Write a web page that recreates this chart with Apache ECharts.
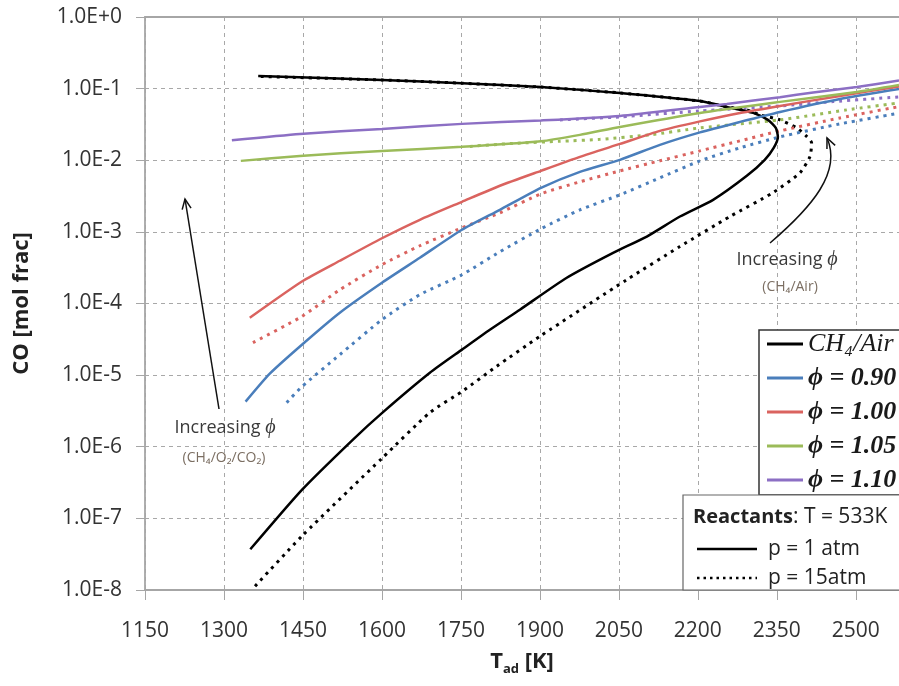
<!DOCTYPE html>
<html>
<head>
<meta charset="utf-8">
<script src="https://cdn.jsdelivr.net/npm/echarts@6/dist/echarts.min.js"></script>
<style>
    html, body { margin: 0; padding: 0; background: #fff; }
    #chart { width: 899px; height: 686px; }
</style>
</head>
<body>
<div id="chart"></div>
<script>
// x ticks
const xMin = 1150, xMax = 2582, xStep = 150;

// CH4/Air, p = 1 atm (lower branch up to the turn, then back along the top)
const ch4T1 = [1350, 1448, 1545, 1601, 1691, 1752, 1805, 1862, 1951, 2039, 2103, 2166, 2229, 2293, 2327, 2344, 2352, 2348, 2333, 2305, 2255, 2204, 2052, 1902, 1752, 1600, 1365];
const ch4CO1 = [3.7e-8, 2.5e-7, 1.26e-6, 3.0e-6, 1.08e-5, 2.27e-5, 4.3e-5, 8.2e-5, 2.29e-4, 5.1e-4, 8.6e-4, 1.64e-3, 2.8e-3, 6.06e-3, 1.014e-2, 1.49e-2, 2.12e-2, 2.83e-2, 3.66e-2, 4.58e-2, 5.56e-2, 6.7e-2, 8.7e-2, 0.105, 0.119, 0.132, 0.150];
// CH4/Air, p = 15 atm
const ch4T15 = [1359, 1448, 1601, 1691, 1752, 1818, 1900, 2065, 2166, 2261, 2342, 2394, 2413, 2416, 2407, 2388, 2356, 2318, 2293, 2255, 2204, 2052, 1902, 1752, 1600, 1370];
const ch4CO15 = [1.13e-8, 5.65e-8, 7.0e-7, 3.0e-6, 5.9e-6, 1.33e-5, 3.48e-5, 2.15e-4, 6.25e-4, 1.64e-3, 3.5e-3, 6.7e-3, 1.13e-2, 1.75e-2, 2.14e-2, 2.83e-2, 3.66e-2, 4.3e-2, 5.05e-2, 5.56e-2, 6.7e-2, 8.7e-2, 0.105, 0.119, 0.132, 0.148];

// phi = 0.90
const phi090T1 = [1341, 1387, 1448, 1520, 1600, 1672, 1752, 1824, 1902, 1976, 2052, 2128, 2204, 2280, 2356, 2470, 2582];
const phi090CO1 = [4.27e-6, 1.05e-5, 2.66e-5, 7.44e-5, 1.95e-4, 4.35e-4, 1.07e-3, 2.03e-3, 4.12e-3, 6.89e-3, 1.014e-2, 1.64e-2, 2.45e-2, 3.43e-2, 4.73e-2, 7.18e-2, 9.9e-2];
const phi090T15 = [1419, 1448, 1520, 1600, 1672, 1752, 1824, 1902, 1976, 2052, 2128, 2204, 2280, 2356, 2470, 2582];
const phi090CO15 = [4.13e-6, 6.9e-6, 1.93e-5, 5.94e-5, 1.33e-4, 2.52e-4, 5.28e-4, 1.105e-3, 2.03e-3, 3.29e-3, 5.69e-3, 9.82e-3, 1.49e-2, 2.12e-2, 3.22e-2, 4.54e-2];

// phi = 1.00
const phi100T1 = [1349, 1448, 1520, 1600, 1672, 1752, 1824, 1902, 1976, 2052, 2128, 2204, 2280, 2356, 2470, 2582];
const phi100CO1 = [6.33e-5, 2.03e-4, 3.95e-4, 8.15e-4, 1.475e-3, 2.63e-3, 4.40e-3, 7.12e-3, 1.115e-2, 1.69e-2, 2.57e-2, 3.49e-2, 4.58e-2, 5.74e-2, 7.91e-2, 0.1073];
const phi100T15 = [1355, 1448, 1520, 1600, 1672, 1752, 1824, 1902, 1976, 2052, 2128, 2204, 2280, 2356, 2470, 2582];
const phi100CO15 = [2.84e-5, 6.6e-5, 1.556e-4, 3.48e-4, 6.4e-4, 1.14e-3, 1.845e-3, 3.40e-3, 5.0e-3, 7.12e-3, 9.82e-3, 1.352e-2, 1.865e-2, 2.57e-2, 3.90e-2, 5.61e-2];

// phi = 1.05
const phi105T1 = [1332, 1444, 1600, 1752, 1902, 1976, 2052, 2204, 2356, 2502, 2582];
const phi105CO1 = [9.8e-3, 1.15e-2, 1.35e-2, 1.54e-2, 1.84e-2, 2.26e-2, 2.92e-2, 4.58e-2, 6.53e-2, 9.0e-2, 0.1127];
const phi105T15 = [1767, 1849, 1938, 2014, 2109, 2204, 2356, 2483, 2582];
const phi105CO15 = [1.56e-2, 1.72e-2, 1.84e-2, 1.96e-2, 2.26e-2, 2.83e-2, 3.66e-2, 5.05e-2, 6.32e-2];

// phi = 1.10
const phi110T1 = [1315, 1444, 1600, 1752, 1902, 2052, 2204, 2255, 2356, 2419, 2502, 2582];
const phi110CO1 = [1.9e-2, 2.33e-2, 2.74e-2, 3.22e-2, 3.6e-2, 4.16e-2, 5.56e-2, 6.12e-2, 7.59e-2, 8.85e-2, 0.1056, 0.130];
const phi110T15 = [1938, 2052, 2204, 2356, 2457, 2582];
const phi110CO15 = [3.66e-2, 4.03e-2, 4.89e-2, 5.74e-2, 6.59e-2, 7.66e-2];

const legendNames = ['CH4/Air', 'ϕ = 0.90', 'ϕ = 1.00', 'ϕ = 1.05', 'ϕ = 1.10'];

const chart = echarts.init(document.getElementById('chart'));

function pairs(t, co) {
    return t.map(function (v, i) { return [v, co[i]]; });
}

function line(name, t, co, color, dotted) {
    return {
        name: name,
        type: 'line',
        data: pairs(t, co),
        symbol: 'none',
        smooth: 0.2,
        silent: true,
        animation: false,
        z: dotted ? 2 : 3,
        itemStyle: { color: color },
        lineStyle: dotted
            ? { color: color, width: 3, type: [3, 5] }
            : { color: color, width: 2.5 }
    };
}

// 箭头
function arrowHead(x, y, dx, dy) {
    const len = Math.hypot(dx, dy);
    const ux = dx / len, uy = dy / len;
    const L = 11, c = Math.cos(0.42), s = Math.sin(0.42);
    return {
        type: 'polyline',
        shape: {
            points: [
                [x - L * (ux * c - uy * s), y - L * (uy * c + ux * s)],
                [x, y],
                [x - L * (ux * c + uy * s), y - L * (uy * c - ux * s)]
            ]
        },
        style: { stroke: '#111', lineWidth: 1.5, fill: null },
        z: 100
    };
}

const sansFont = 'Open Sans';
const axisGrey = '#a6a6a6';
const blue = '#4A7EBB', red = '#DA635F', green = '#9BBB59', purple = '#8C6FC4';

const option = {
    backgroundColor: '#fff',
    animation: false,
    grid: { left: 145, right: 0, top: 17, bottom: 96 },
    xAxis: [{
        type: 'value',
        min: xMin,
        max: xMax,
        interval: xStep,
        name: '{t|T}{s|ad}{t| [K]}',
        nameLocation: 'middle',
        nameGap: 58,
        nameTextStyle: {
            rich: {
                t: { fontFamily: sansFont, fontWeight: 'bold', fontSize: 22, lineHeight: 28, color: '#222' },
                s: { fontFamily: sansFont, fontWeight: 'bold', fontSize: 13, lineHeight: 13, verticalAlign: 'bottom', color: '#222' }
            }
        },
        axisLine: { lineStyle: { color: axisGrey, width: 1.8 } },
        axisTick: { length: 10, lineStyle: { color: axisGrey } },
        axisLabel: {
            margin: 31, fontFamily: sansFont, fontSize: 21, color: '#333', showMaxLabel: false,
            formatter: function (v) { return String(v); }
        },
        splitLine: { lineStyle: { color: '#a8a8a8', type: [4, 4] } }
    }, {
        type: 'value',
        position: 'top',
        min: xMin,
        max: xMax,
        interval: xStep,
        axisLine: { show: true, lineStyle: { color: axisGrey, width: 1.8 } },
        axisTick: { show: false },
        axisLabel: { show: false },
        splitLine: { show: false }
    }],
    yAxis: {
        type: 'log',
        logBase: 10,
        min: 1e-8,
        max: 1,
        name: 'CO [mol frac]',
        nameLocation: 'middle',
        nameGap: 112,
        nameTextStyle: { fontFamily: sansFont, fontWeight: 'bold', fontSize: 22, color: '#222' },
        axisLine: { show: true, lineStyle: { color: axisGrey, width: 1.8 } },
        axisTick: { show: true, length: 9, lineStyle: { color: axisGrey } },
        axisLabel: {
            margin: 23,
            fontFamily: sansFont,
            fontSize: 21,
            color: '#333',
            formatter: function (v) {
                const e = Math.round(Math.log10(v));
                return '1.0E' + (e >= 0 ? '+' : '') + e;
            }
        },
        splitLine: { lineStyle: { color: '#a8a8a8', type: [4, 4] } }
    },
    legend: {
        data: legendNames,
        orient: 'vertical',
        left: 759,
        top: 330,
        padding: [1, 80, 2, 8],
        icon: 'rect',
        itemWidth: 36,
        itemHeight: 3,
        itemGap: 8,
        backgroundColor: '#fff',
        borderColor: '#333',
        borderWidth: 1.5,
        selectedMode: false,
        formatter: function (name) {
            if (name === 'CH4/Air') return '{it|CH₄/Air}';
            return '{bi|' + name + '}';
        },
        textStyle: {
            rich: {
                it: { fontFamily: 'Liberation Serif', fontStyle: 'italic', fontSize: 26, lineHeight: 28, color: '#1a1a1a' },
                bi: { fontFamily: 'Liberation Serif', fontStyle: 'italic', fontWeight: 'bold', fontSize: 26, lineHeight: 28, color: '#1a1a1a' }
            }
        }
    },
    graphic: [
        // Reactants box
        { type: 'rect', shape: { x: 683, y: 495, width: 240, height: 95 }, style: { fill: '#fff', stroke: '#666', lineWidth: 1.2 }, z: 100 },
        {
            type: 'text', x: 693, y: 517, z: 101,
            style: {
                text: '{b|Reactants}{n|: T = 533K}', verticalAlign: 'middle',
                rich: {
                    b: { fontFamily: sansFont, fontWeight: 'bold', fontSize: 20, fill: '#222' },
                    n: { fontFamily: sansFont, fontSize: 21, fill: '#222' }
                }
            }
        },
        { type: 'line', shape: { x1: 697, y1: 549, x2: 757, y2: 549 }, style: { stroke: '#000', lineWidth: 2.5 }, z: 101 },
        { type: 'text', x: 768, y: 549, z: 101, style: { text: 'p = 1 atm', verticalAlign: 'middle', fontFamily: sansFont, fontSize: 21, fill: '#222' } },
        { type: 'line', shape: { x1: 697, y1: 578, x2: 757, y2: 578 }, style: { stroke: '#000', lineWidth: 2.5, lineDash: [2.5, 4] }, z: 101 },
        { type: 'text', x: 768, y: 578, z: 101, style: { text: 'p = 15atm', verticalAlign: 'middle', fontFamily: sansFont, fontSize: 21, fill: '#222' } },

        // left annotation
        { type: 'line', shape: { x1: 219, y1: 409, x2: 185, y2: 199 }, style: { stroke: '#111', lineWidth: 1.5 }, z: 100 },
        arrowHead(185, 199, -34, -210),
        {
            type: 'text', x: 225, y: 428, z: 100,
            style: {
                text: '{n|Increasing }{p|ϕ}', align: 'center', verticalAlign: 'middle',
                rich: {
                    n: { fontFamily: sansFont, fontSize: 18, fill: '#3a3a3a' },
                    p: { fontFamily: 'Liberation Serif', fontStyle: 'italic', fontSize: 20, fill: '#3a3a3a' }
                }
            }
        },
        { type: 'text', x: 224, y: 458, z: 100, style: { text: '(CH₄/O₂/CO₂)', align: 'center', verticalAlign: 'middle', fontFamily: sansFont, fontSize: 14, fill: '#7b6e62' } },

        // right annotation
        { type: 'bezierCurve', shape: { x1: 770, y1: 243, cpx1: 812, cpy1: 207, cpx2: 842, cpy2: 172, x2: 827, y2: 138 }, style: { stroke: '#111', lineWidth: 1.5, fill: null }, z: 100 },
        arrowHead(827, 138, -15, -34),
        {
            type: 'text', x: 787, y: 260, z: 100,
            style: {
                text: '{n|Increasing }{p|ϕ}', align: 'center', verticalAlign: 'middle',
                rich: {
                    n: { fontFamily: sansFont, fontSize: 18, fill: '#3a3a3a' },
                    p: { fontFamily: 'Liberation Serif', fontStyle: 'italic', fontSize: 20, fill: '#3a3a3a' }
                }
            }
        },
        { type: 'text', x: 790, y: 287, z: 100, style: { text: '(CH₄/Air)', align: 'center', verticalAlign: 'middle', fontFamily: sansFont, fontSize: 14, fill: '#7b6e62' } }
    ],
    series: [
        line('CH4/Air', ch4T1, ch4CO1, '#000', false),
        line('CH4/Air', ch4T15, ch4CO15, '#000', true),
        line('ϕ = 0.90', phi090T1, phi090CO1, blue, false),
        line('ϕ = 0.90', phi090T15, phi090CO15, blue, true),
        line('ϕ = 1.00', phi100T1, phi100CO1, red, false),
        line('ϕ = 1.00', phi100T15, phi100CO15, red, true),
        line('ϕ = 1.05', phi105T1, phi105CO1, green, false),
        line('ϕ = 1.05', phi105T15, phi105CO15, green, true),
        line('ϕ = 1.10', phi110T1, phi110CO1, purple, false),
        line('ϕ = 1.10', phi110T15, phi110CO15, purple, true)
    ]
};

chart.setOption(option);
</script>
</body>
</html>
